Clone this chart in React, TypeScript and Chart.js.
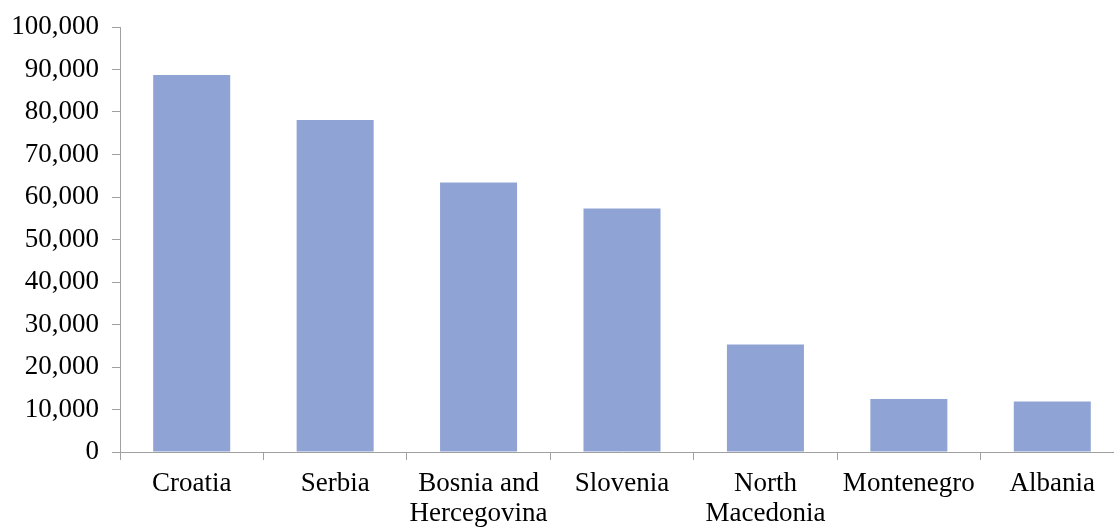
import React, { useEffect, useRef } from "react";
import { Chart, registerables } from "chart.js";

Chart.register(...registerables);

const categories: (string | string[])[] = [
  "Croatia",
  "Serbia",
  ["Bosnia and", "Hercegovina"],
  "Slovenia",
  ["North", "Macedonia"],
  "Montenegro",
  "Albania",
];
const values: number[] = [88700, 78100, 63400, 57300, 25300, 12500, 11900];
const yMin = 0;
const yMax = 100000;
const yStep = 10000;

const FONT = "'Liberation Serif', 'Times New Roman', serif";

export default function App() {
  const ref = useRef<HTMLCanvasElement | null>(null);
  useEffect(() => {
    if (!ref.current) return;
    const chart = new Chart(ref.current, {
      type: "bar",
      data: {
        labels: categories,
        datasets: [
          {
            data: values,
            backgroundColor: "#8FA4D4",
            borderWidth: 0,
            categoryPercentage: 1,
            barPercentage: 0.537,
          },
        ],
      },
      options: {
        responsive: false,
        animation: false,
        layout: { padding: { top: 27, right: 0, left: 0, bottom: 0 } },
        plugins: { legend: { display: false }, tooltip: { enabled: false } },
        scales: {
          x: {
            grid: {
              display: true,
              drawOnChartArea: false,
              drawTicks: true,
              tickLength: 8,
              color: "#A0A0A0",
              offset: true,
            },
            border: { display: true, color: "#A0A0A0", width: 1 },
            ticks: {
              color: "#000",
              font: { family: FONT, size: 27, lineHeight: 1.1 },
              padding: 9,
              maxRotation: 0,
              autoSkip: false,
            },
            afterFit: (s: any) => {
              s.height = 75;
            },
          },
          y: {
            min: yMin,
            max: yMax,
            grid: {
              display: true,
              drawOnChartArea: false,
              drawTicks: true,
              tickLength: 8,
              color: "#A0A0A0",
            },
            border: { display: true, color: "#A0A0A0", width: 1 },
            ticks: {
              stepSize: yStep,
              color: "#000",
              font: { family: FONT, size: 27 },
              padding: 13,
              callback: (v: any) => Number(v).toLocaleString("en-US"),
            },
            afterFit: (s: any) => {
              s.width = 120;
              s.paddingTop = 0;
              s.paddingBottom = 0;
            },
          },
        },
      },
    });
    return () => chart.destroy();
  }, []);
  return (
    <div
      style={{
        position: "absolute",
        left: 0,
        top: 0,
        width: 1114,
        height: 527,
        overflow: "hidden",
        background: "#fff",
      }}
    >
      <canvas ref={ref} width={1124} height={527} style={{ display: "block" }} />
    </div>
  );
}
